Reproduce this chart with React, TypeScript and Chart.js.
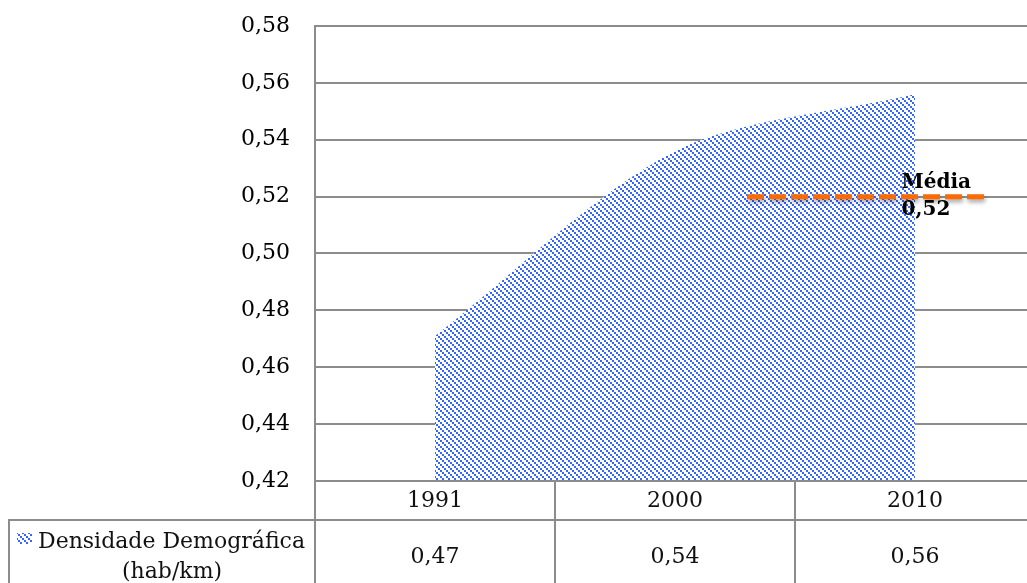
import React, { useEffect, useRef } from "react";
import { Chart, registerables } from "chart.js";

Chart.register(...registerables);

// Census years and population density (hab/km)
const years = ["1991", "2000", "2010"];
const densidade = [0.471, 0.536, 0.556];
const seriesName = "Densidade Demográfica";
const seriesUnit = "(hab/km)";

// Average line: value and horizontal extent in category units
const mediaValor = [0.52, 0.52];
const mediaX = [1.3, 2.29];
const mediaLabel = "Média";

// Value axis
const yMin = 0.42;
const yMax = 0.58;
const yStep = 0.02;

const FONT = "'DejaVu Serif', serif";
const GRID = "#8c8c8c";
const BLUE = "#3366ff";
const ORANGE = "#ff6a00";

const fmt = (v: number) => v.toFixed(2).replace(".", ",");

// Dotted diagonal hatch on an opaque white ground
function makePattern(): CanvasPattern | string {
  const tile = document.createElement("canvas");
  tile.width = 6;
  tile.height = 6;
  const c = tile.getContext("2d");
  if (!c) return BLUE;
  c.fillStyle = "#ffffff";
  c.fillRect(0, 0, 6, 6);
  c.fillStyle = BLUE;
  c.fillRect(0, 0, 2, 2);
  c.fillRect(2, 2, 2, 2);
  c.fillRect(4, 4, 2, 2);
  const ctx = document.createElement("canvas").getContext("2d");
  return (ctx && ctx.createPattern(tile, "repeat")) || BLUE;
}

export default function App() {
  const ref = useRef<HTMLCanvasElement | null>(null);

  useEffect(() => {
    if (!ref.current) return;
    const pattern = makePattern();

    const shadowPlugin = {
      id: "meanShadow",
      beforeDatasetDraw(chart: any, args: any) {
        if (args.index !== 1) return;
        const ctx = chart.ctx;
        ctx.save();
        ctx.shadowColor = "rgba(0,0,0,0.35)";
        ctx.shadowBlur = 4;
        ctx.shadowOffsetY = 3;
        ctx.shadowOffsetX = 1;
      },
      afterDatasetDraw(chart: any, args: any) {
        if (args.index !== 1) return;
        chart.ctx.restore();
      },
    };

    const tablePlugin = {
      id: "dataTable",
      afterDraw(chart: any) {
        const ctx = chart.ctx as CanvasRenderingContext2D;
        const x = chart.scales.x;
        const area = chart.chartArea;
        const W = chart.width;
        const H = chart.height;
        const rowTop = area.bottom + 39;

        ctx.save();
        ctx.strokeStyle = GRID;
        ctx.lineWidth = 2;
        ctx.beginPath();
        // column dividers below the plot
        for (let i = 0; i < years.length; i++) {
          const px = Math.round(x.getPixelForValue(i - 0.5));
          ctx.moveTo(px, area.bottom);
          ctx.lineTo(px, H);
        }
        // left axis line
        ctx.moveTo(area.left, area.top);
        ctx.lineTo(area.left, H);
        // bottom axis line
        ctx.moveTo(area.left, area.bottom);
        ctx.lineTo(W, area.bottom);
        // row separator and legend cell border
        ctx.moveTo(8, rowTop);
        ctx.lineTo(W, rowTop);
        ctx.moveTo(9, rowTop);
        ctx.lineTo(9, H);
        ctx.stroke();

        ctx.fillStyle = "#111";
        ctx.font = `22px ${FONT}`;
        ctx.textAlign = "center";
        ctx.textBaseline = "middle";
        years.forEach((y, i) => {
          const px = x.getPixelForValue(i);
          ctx.fillText(y, px, area.bottom + 20);
          ctx.fillText(fmt(densidade[i]), px, rowTop + 37);
        });

        // legend key + series name
        ctx.fillStyle = pattern as any;
        ctx.fillRect(17, rowTop + 13, 15, 11);
        ctx.fillStyle = "#111";
        ctx.textAlign = "left";
        ctx.fillText(seriesName, 38, rowTop + 22);
        ctx.textAlign = "center";
        ctx.fillText(seriesUnit, 172, rowTop + 52);

        // average label
        const lx = x.getPixelForValue(mediaX[1]) - 83;
        const ly = chart.scales.y.getPixelForValue(mediaValor[1]);
        ctx.font = `bold 20px ${FONT}`;
        ctx.textAlign = "left";
        ctx.textBaseline = "alphabetic";
        ctx.fillStyle = "#000";
        ctx.fillText(mediaLabel, lx, ly - 9);
        ctx.fillText(fmt(mediaValor[1]), lx, ly + 18);
        ctx.restore();
      },
    };

    const chart = new Chart(ref.current, {
      type: "line",
      data: {
        datasets: [
          {
            label: seriesName,
            data: densidade.map((v, i) => ({ x: i, y: v })),
            backgroundColor: pattern as any,
            borderWidth: 0,
            borderColor: "rgba(0,0,0,0)",
            pointRadius: 0,
            fill: "start",
            tension: 0.3,
            order: 1,
          },
          {
            label: mediaLabel,
            data: mediaX.map((xv, i) => ({ x: xv, y: mediaValor[i] })),
            borderColor: ORANGE,
            borderWidth: 5,
            borderDash: [17, 5],
            borderCapStyle: "butt",
            pointRadius: 0,
            fill: false,
            order: 0,
          },
        ],
      },
      options: {
        animation: false,
        responsive: false,
        maintainAspectRatio: false,
        layout: { padding: { top: 26, bottom: 102, left: 0, right: 0 } },
        plugins: { legend: { display: false }, tooltip: { enabled: false } },
        scales: {
          x: {
            type: "linear",
            min: -0.5,
            max: years.length - 0.5,
            display: false,
          },
          y: {
            min: yMin,
            max: yMax,
            afterFit: (s: any) => {
              s.width = 315;
              s.paddingTop = 0;
              s.paddingBottom = 0;
            },
            ticks: {
              stepSize: yStep,
              padding: 25,
              color: "#000",
              font: { family: FONT, size: 22 },
              callback: (v: any) => fmt(Number(v)),
            },
            grid: { color: GRID, lineWidth: 2, drawTicks: false },
            border: { display: true, color: GRID, width: 2 },
          },
        },
      },
      plugins: [shadowPlugin, tablePlugin],
    });
    return () => chart.destroy();
  }, []);

  return (
    <div
      style={{
        position: "fixed",
        left: 0,
        top: 0,
        width: 1027,
        height: 583,
        overflow: "hidden",
        background: "#fff",
      }}
    >
      <canvas ref={ref} width={1035} height={583} style={{ display: "block" }} />
    </div>
  );
}
